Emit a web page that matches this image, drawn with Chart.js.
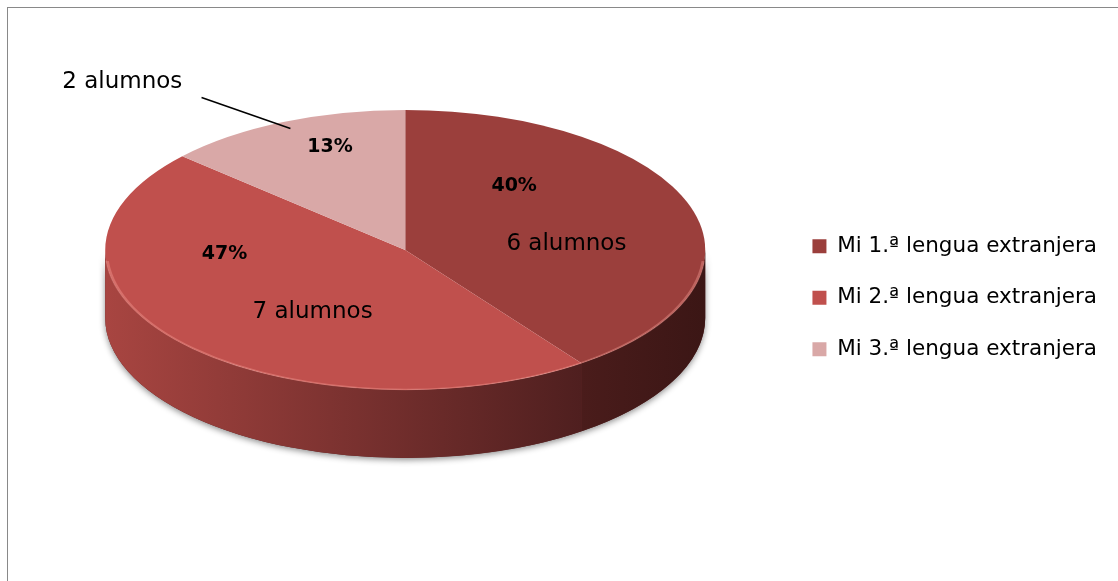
<!DOCTYPE html>
<html lang="es">
<head>
<meta charset="UTF-8" />
<title>Lenguas extranjeras</title>
<script src="https://cdn.jsdelivr.net/npm/chart.js"></script>
<style>
  html, body { margin: 0; padding: 0; background: #fff; overflow: hidden; }
  .frame { position: absolute; left: 7px; top: 7px; width: 1200px; height: 700px; border: 1px solid #898989; }
  canvas { position: absolute; left: 0; top: 0; }
</style>
</head>
<body>
<div class="frame"></div>
<canvas id="pieChart" width="1118" height="581"></canvas>
<script>
const categories = ['Mi 1.ª lengua extranjera', 'Mi 2.ª lengua extranjera', 'Mi 3.ª lengua extranjera'];
const alumnos = [6, 7, 2];
const topColors = ['#9b3f3c', '#c0504d', '#d9a8a7'];
const sideColors = [['#4a1c1b', '#3b1615'], ['#a84541', '#4f1f1f'], ['#c49291', '#a07776']];

const total = alumnos.reduce((a, b) => a + b, 0);
const percentLabels = alumnos.map(v => Math.round(v / total * 100) + '%');
const countLabels = alumnos.map(v => v + ' alumnos');

// text placement inside each slice: [fraction along the arc, fraction of the radius]
const pctPos = [[0.267, 0.584], [0.733, 0.603], [0.607, 0.775]];
const countPos = [[0.593, 0.539], [0.421, 0.542], [0.204, 1.525]];
const leaderPos = [null, null, [[0.335, 1.284], [0.504, 0.948]]];

const RX = 300;     // half width of the pie ellipse on screen
const DEPTH = 68;   // height of the drum side
const FONT = '"DejaVu Sans"';

function stretch(arc) { return RX / arc.outerRadius; }
function pointOn(arc, frac, rf) {
  const a = arc.startAngle + frac * (arc.endAngle - arc.startAngle);
  return {
    x: arc.x + Math.cos(a) * arc.outerRadius * rf * stretch(arc),
    y: arc.y + Math.sin(a) * arc.outerRadius * rf
  };
}

const pie3d = {
  id: 'pie3d',
  beforeDatasetsDraw(chart) {
    const ctx = chart.ctx;
    const arcs = chart.getDatasetMeta(0).data;
    const cx = arcs[0].x, cy = arcs[0].y, r = arcs[0].outerRadius;
    ctx.save();
    ctx.translate(cx, cy);
    ctx.scale(stretch(arcs[0]), 1);
    ctx.translate(-cx, -cy);

    // soft shadow under the drum
    ctx.save();
    ctx.shadowColor = 'rgba(0,0,0,0.45)';
    ctx.shadowBlur = 6;
    ctx.shadowOffsetY = 2;
    ctx.beginPath();
    ctx.arc(cx, cy, r, 0, Math.PI);
    ctx.arc(cx, cy + DEPTH, r, Math.PI, 0, true);
    ctx.closePath();
    ctx.fillStyle = '#5a2222';
    ctx.fill();
    ctx.restore();

    // front walls of each slice
    arcs.forEach((arc, i) => {
      [0, 2 * Math.PI].forEach(k => {
        const lo = Math.max(arc.startAngle, k);
        const hi = Math.min(arc.endAngle, k + Math.PI);
        if (hi <= lo) return;
        const g = ctx.createLinearGradient(cx + r * Math.cos(hi), 0, cx + r * Math.cos(lo), 0);
        g.addColorStop(0, sideColors[i][0]);
        g.addColorStop(1, sideColors[i][1]);
        ctx.beginPath();
        ctx.arc(cx, cy, r, lo, hi);
        ctx.arc(cx, cy + DEPTH, r, hi, lo, true);
        ctx.closePath();
        ctx.fillStyle = g;
        ctx.fill();
      });
    });
  },
  afterDatasetsDraw(chart) {
    const ctx = chart.ctx;
    const arcs = chart.getDatasetMeta(0).data;
    const cx = arcs[0].x, cy = arcs[0].y, r = arcs[0].outerRadius;
    // light rim along the front top edge
    ctx.beginPath();
    ctx.arc(cx, cy, r - 0.5, 0.08, Math.PI - 0.08);
    ctx.strokeStyle = 'rgba(255,170,160,0.35)';
    ctx.lineWidth = 1.5;
    ctx.stroke();
    ctx.restore();

    // labels
    ctx.save();
    ctx.fillStyle = '#000';
    ctx.textAlign = 'center';
    ctx.textBaseline = 'middle';
    arcs.forEach((arc, i) => {
      let p = pointOn(arc, pctPos[i][0], pctPos[i][1]);
      ctx.font = 'bold 19px ' + FONT;
      ctx.fillText(percentLabels[i], p.x, p.y);
      p = pointOn(arc, countPos[i][0], countPos[i][1]);
      ctx.font = '23px ' + FONT;
      ctx.fillText(countLabels[i], p.x, p.y);
      if (leaderPos[i]) {
        const a = pointOn(arc, leaderPos[i][0][0], leaderPos[i][0][1]);
        const b = pointOn(arc, leaderPos[i][1][0], leaderPos[i][1][1]);
        ctx.beginPath();
        ctx.moveTo(a.x, a.y);
        ctx.lineTo(b.x, b.y);
        ctx.strokeStyle = '#000';
        ctx.lineWidth = 1.5;
        ctx.stroke();
      }
    });
    ctx.restore();
  }
};

new Chart(document.getElementById('pieChart'), {
  type: 'pie',
  data: {
    labels: categories,
    datasets: [{
      data: alumnos,
      backgroundColor: topColors,
      borderWidth: 0,
      offset: 0,
      hoverOffset: 0,
      clip: false
    }]
  },
  options: {
    responsive: false,
    animation: false,
    events: [],
    layout: { padding: { left: 28, top: 110, bottom: 191, right: 11 } },
    plugins: {
      tooltip: { enabled: false },
      legend: {
        position: 'right',
        align: 'end',
        labels: {
          font: { family: 'DejaVu Sans', size: 21.5 },
          color: '#000',
          boxWidth: 14,
          boxHeight: 14,
          padding: 30
        }
      }
    }
  },
  plugins: [pie3d]
});
</script>
</body>
</html>
